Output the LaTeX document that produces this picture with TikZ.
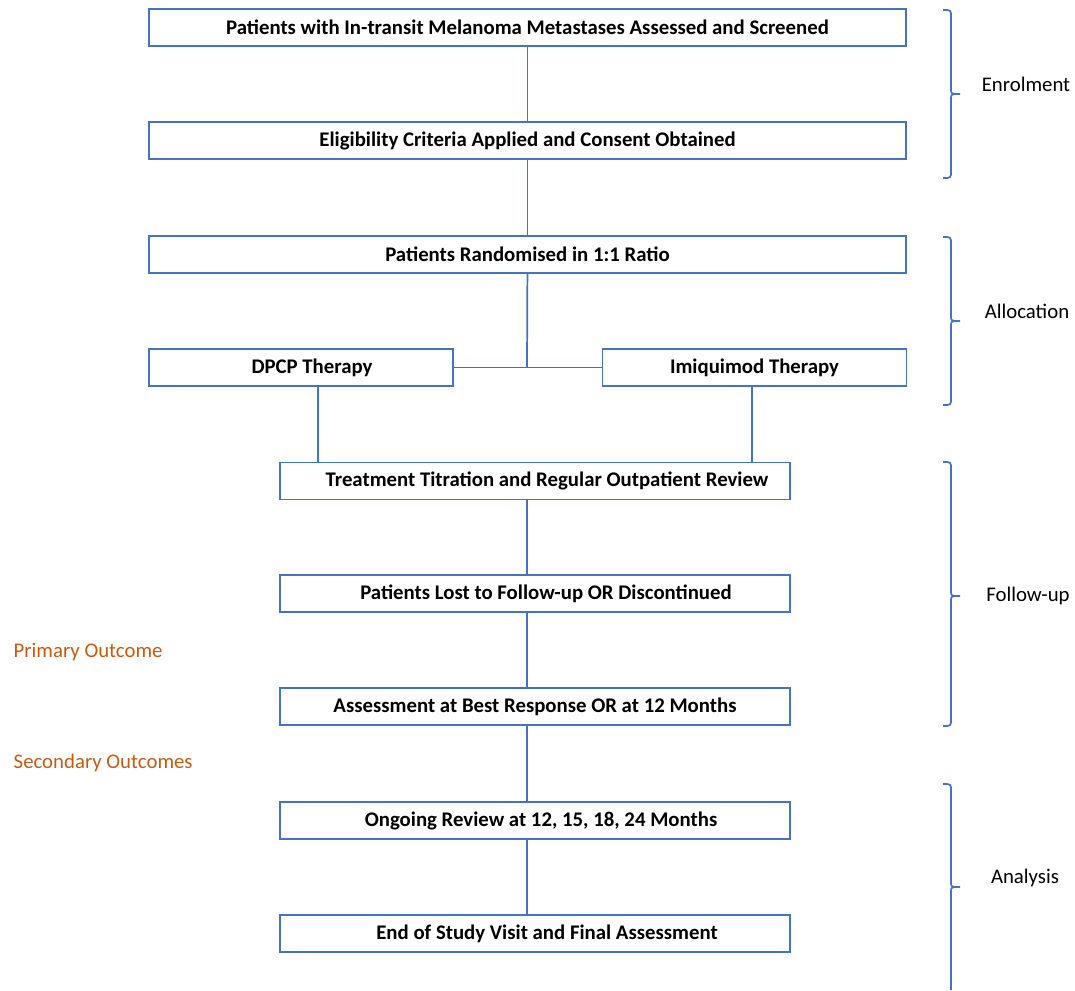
\documentclass[tikz,border=0pt]{standalone}
\usepackage{fontspec}
\setmainfont{Carlito}
\definecolor{lineblue}{HTML}{4472C4}
\definecolor{outorange}{HTML}{C55A11}
\begin{document}
\begin{tikzpicture}[x=0.75pt,y=-0.75pt,
	box/.style={draw=lineblue,line width=1.3pt,inner sep=0pt,minimum height=27.75pt,font=\fontsize{15.6}{18}\selectfont\bfseries},
	wide/.style={box,minimum width=567.75pt},
	half/.style={box,minimum width=228pt},
	mid/.style={box,minimum width=382.5pt},
	link/.style={draw=lineblue,line width=1.3pt},
	phase/.style={font=\fontsize{15.6}{18}\selectfont},
	outcome/.style={font=\fontsize{15.6}{18}\selectfont,text=outorange,anchor=west}]
	\useasboundingbox (0,0) rectangle (1075,990);
	% boxes
	\node [wide] (screen) at (527.5,27.5) {Patients with In-transit Melanoma Metastases Assessed and Screened};
	\node [wide] (consent) at (527.5,140.5) {Eligibility Criteria Applied and Consent Obtained};
	\node [wide] (random) at (527.5,254.5) {Patients Randomised in 1:1 Ratio};
	\node [half] (dpcp) at (301,367.5) {\hspace{16.5pt}DPCP Therapy};
	\node [half] (imiq) at (754.5,367.5) {Imiquimod Therapy};
	\node [mid] (titrate) at (535,481) {\hspace{18pt}Treatment Titration and Regular Outpatient Review};
	\node [mid] (lost) at (535,593.5) {\hspace{16.5pt}Patients Lost to Follow-up OR Discontinued};
	\node [mid] (assess) at (535,706.5) {Assessment at Best Response OR at 12 Months};
	\node [mid] (ongoing) at (535,820.5) {\hspace{9pt}Ongoing Review at 12, 15, 18, 24 Months};
	\node [mid] (final) at (535,933.5) {\hspace{18pt}End of Study Visit and Final Assessment};
	\coordinate (split) at (527,367.5);
	% connectors
	\draw [link] (screen) -- (consent);
	\draw [link] (consent) -- (random);
	\draw [link] (random) -- (split);
	\draw [link] (dpcp) -- (imiq);
	\draw [link] ([xshift=12.75pt]dpcp.south) -- ([xshift=12.75pt]dpcp.south |- titrate.north);
	\draw [link] ([xshift=-1.9pt]imiq.south) -- ([xshift=-1.9pt]imiq.south |- titrate.north);
	\draw [link] (titrate.south -| split) -- (lost.north -| split);
	\draw [link] (lost.south -| split) -- (assess.north -| split);
	\draw [link] (assess.south -| split) -- (ongoing.north -| split);
	\draw [link] (ongoing.south -| split) -- (final.north -| split);
	% phase brackets
	\foreach \t/\m/\b in {10/94/178, 237/321/405, 462/596/726}
		\draw [lineblue,line width=1.3pt] (943,\t) .. controls (951,\t) .. (951,\t+7) -- (951,\m-5) .. controls (951,\m) .. (960,\m)
			.. controls (951,\m) .. (951,\m+5) -- (951,\b-7) .. controls (951,\b) .. (943,\b);
	\draw [lineblue,line width=1.3pt] (943,784) .. controls (951,784) .. (951,791) -- (951,882) .. controls (951,887) .. (960,887)
		.. controls (951,887) .. (951,892) -- (951,990);
	\node [phase] (enrol) at (1026,84) {Enrolment};
	\node [phase] (alloc) at (1027,311) {Allocation};
	\node [phase] (follow) at (1028,596) {Follow-up};
	\node [phase] (analysis) at (1025,878) {Analysis};
	\node [outcome] (primary) at (9,652) {Primary Outcome};
	\node [outcome] (secondary) at (9,763) {Secondary Outcomes};
\end{tikzpicture}
\end{document}
